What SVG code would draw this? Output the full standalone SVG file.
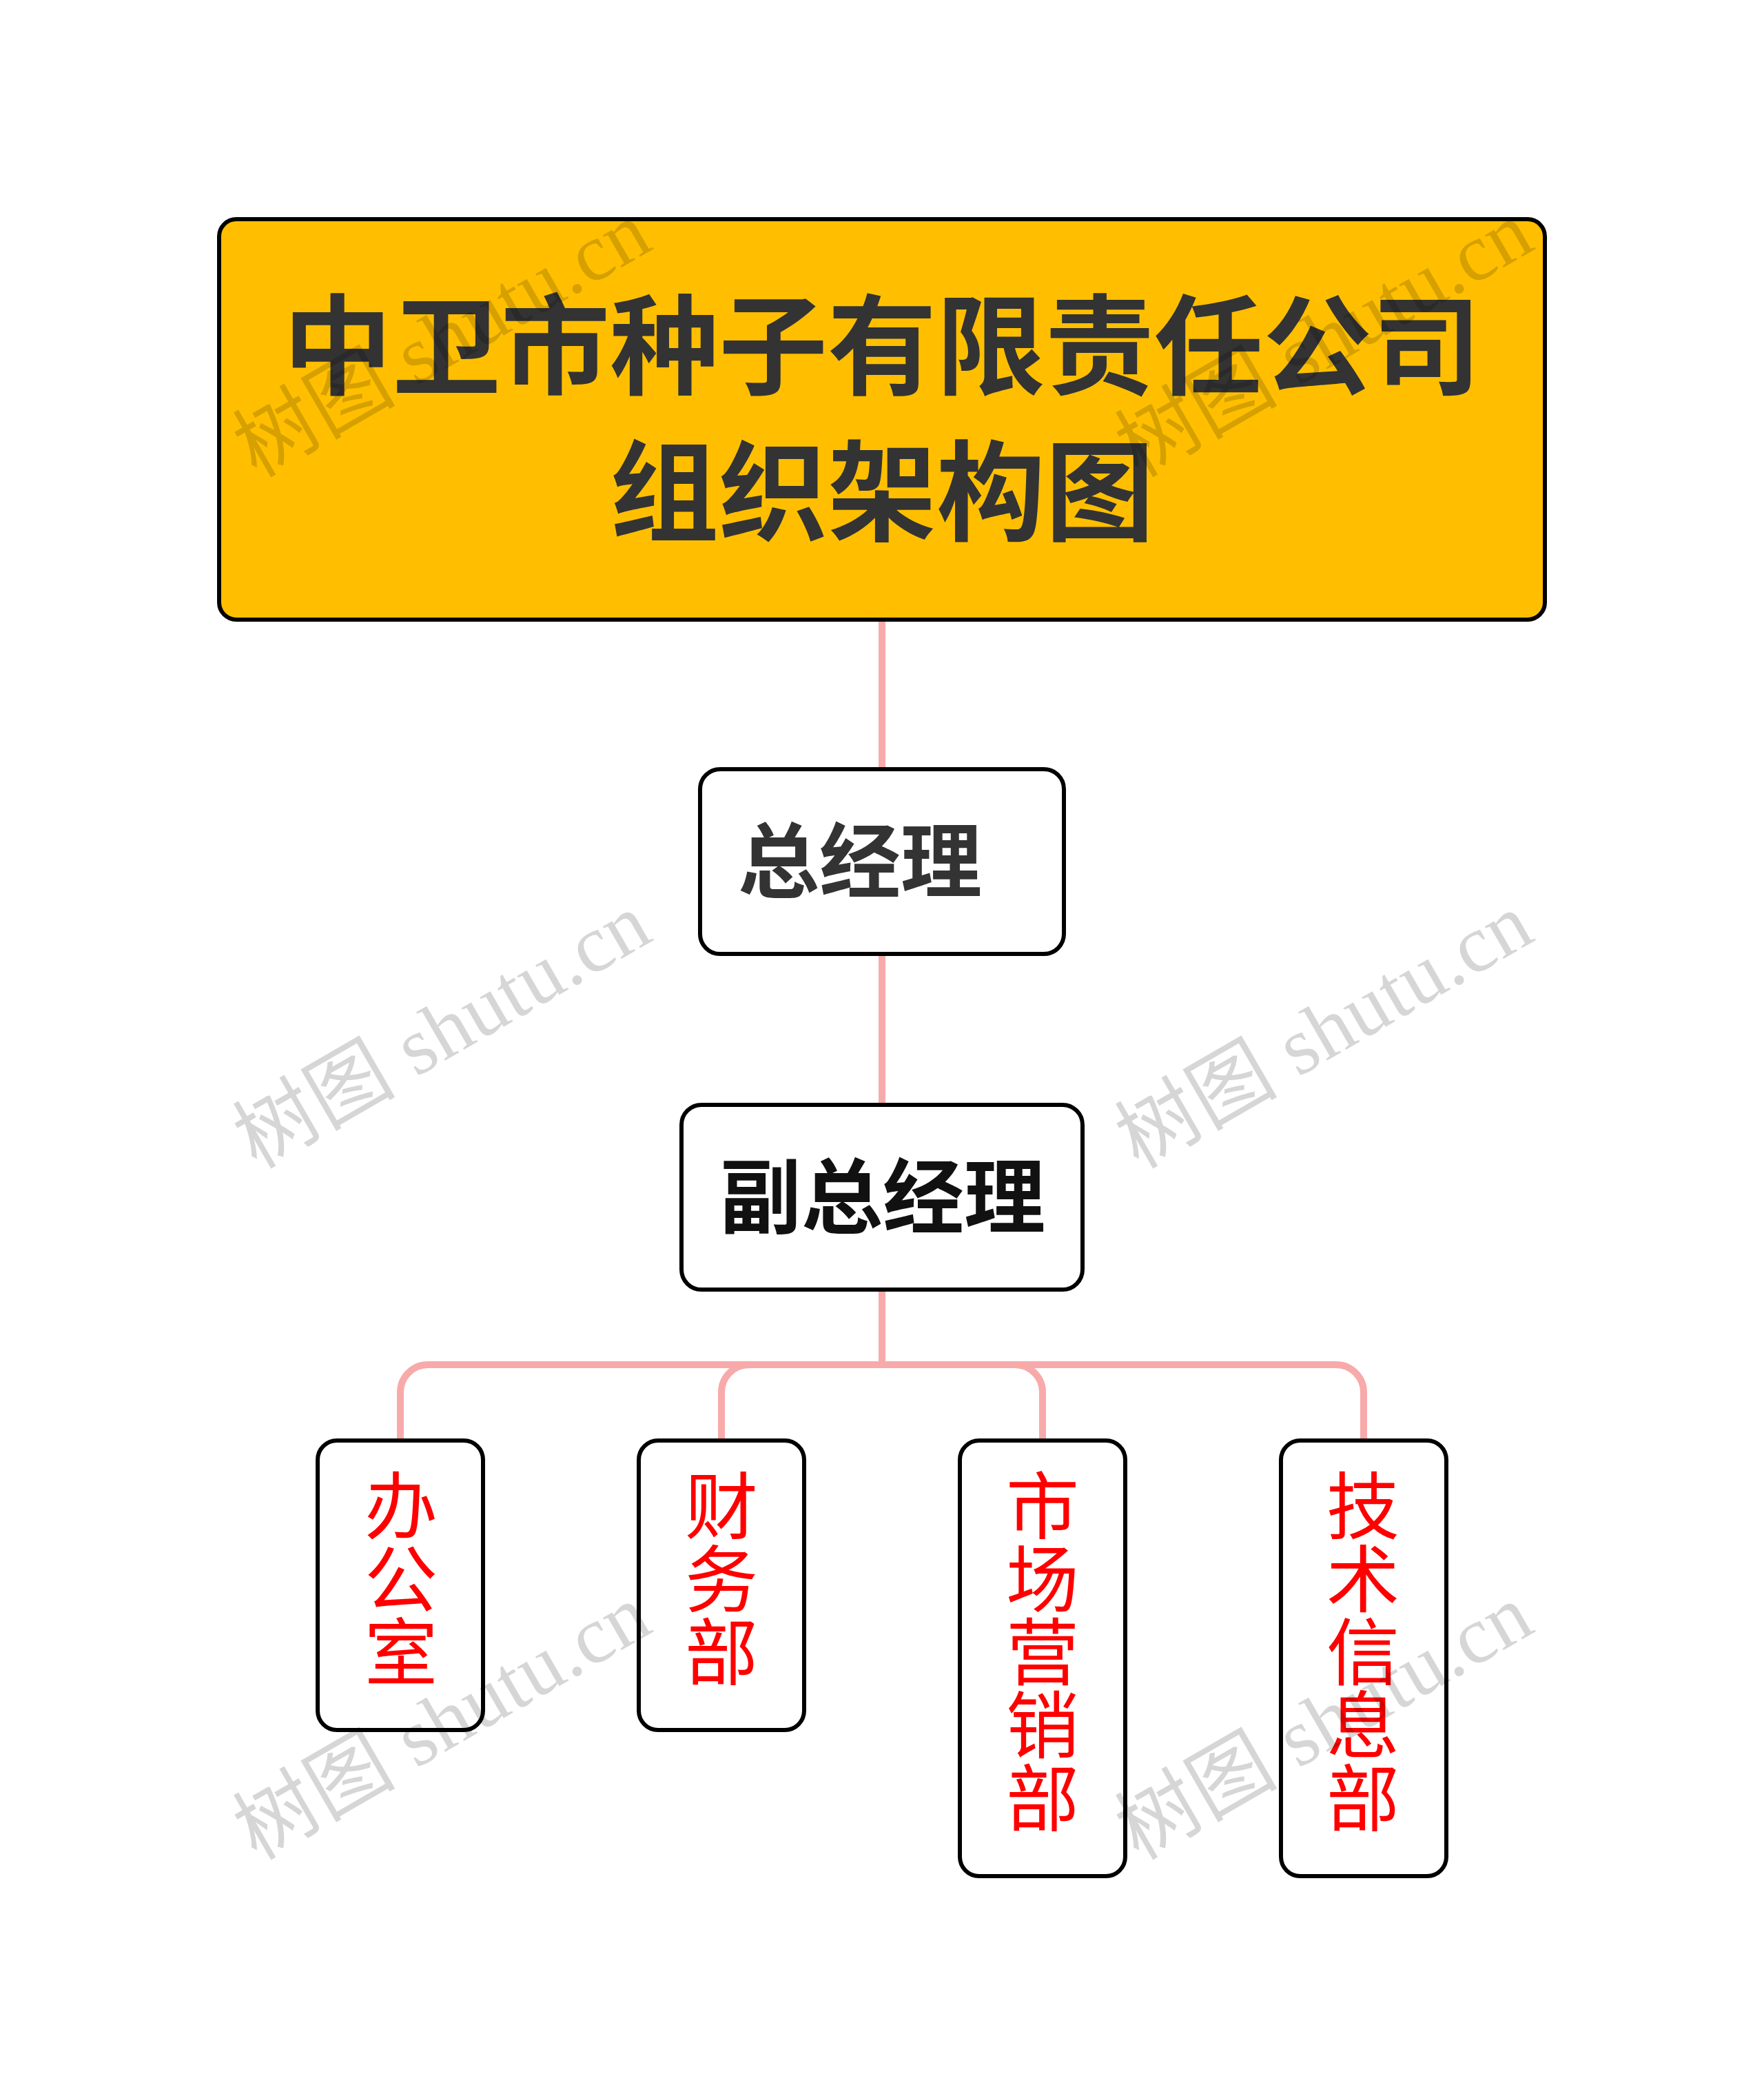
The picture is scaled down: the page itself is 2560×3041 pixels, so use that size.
<svg xmlns="http://www.w3.org/2000/svg" width="2560" height="3041" viewBox="0 0 2560 3041">
<style>
.bg{fill:#ffffff}
.box{fill:#ffffff;stroke:#000000;stroke-width:6}
.title{fill:#FFBF00;stroke:#000000;stroke-width:6}
.conn{fill:none;stroke:#F8AAAA;stroke-width:10}
.tt{font-family:"Noto Sans CJK SC","Noto Sans",sans-serif;font-weight:700;fill:#333333;text-anchor:middle}
.mg{font-family:"Noto Sans CJK SC","Noto Sans",sans-serif;font-weight:700;text-anchor:middle;font-size:118px}
.dept{font-family:"Noto Sans CJK SC","Noto Sans",sans-serif;font-weight:400;fill:#FF0000;font-size:106px;writing-mode:vertical-rl;text-orientation:upright}
.wm{font-family:"Liberation Serif","Noto Sans CJK SC",serif;font-size:118px;fill:#000000;fill-opacity:0.16}
</style>
<rect class="bg" x="0" y="0" width="2560" height="3041"/>
<g id="connectors">
<path class="conn" d="M1280,899 L1280,1116"/>
<path class="conn" d="M1280,1384 L1280,1603"/>
<path class="conn" d="M1280,1871 L1280,1980"/>
<path class="conn" d="M581,2090 L581,2020 A40,40 0 0 1 621,1980 L1939,1980 A40,40 0 0 1 1979,2020 L1979,2090"/>
<path class="conn" d="M1087,1980 A40,40 0 0 0 1047,2020 L1047,2090"/>
<path class="conn" d="M1473,1980 A40,40 0 0 1 1513,2020 L1513,2090"/>
</g>
<g id="node-title">
<rect class="title" x="318" y="318" width="1924" height="581" rx="25" ry="25"/>
<text class="tt" x="1280" y="560" font-size="158">中卫市种子有限责任公司</text>
<text class="tt" x="1280" y="772" font-size="158">组织架构图</text>
</g>
<g id="node-gm">
<rect class="box" x="1016" y="1116" width="528" height="268" rx="29" ry="29"/>
<text class="mg" x="1248" y="1293" fill="#333333">总经理</text>
</g>
<g id="node-dgm">
<rect class="box" x="989" y="1603" width="582" height="268" rx="29" ry="29"/>
<text class="mg" x="1281" y="1780" fill="#111111">副总经理</text>
</g>
<g id="node-office">
<rect class="box" x="461" y="2090" width="240" height="420" rx="28" ry="28"/>
<text class="dept" x="582" y="2131">办公室</text>
</g>
<g id="node-finance">
<rect class="box" x="927" y="2090" width="240" height="420" rx="28" ry="28"/>
<text class="dept" x="1047" y="2131">财务部</text>
</g>
<g id="node-marketing">
<rect class="box" x="1393" y="2090" width="240" height="632" rx="28" ry="28"/>
<text class="dept" x="1513" y="2131">市场营销部</text>
</g>
<g id="node-tech">
<rect class="box" x="1859" y="2090" width="240" height="632" rx="28" ry="28"/>
<text class="dept" x="1978" y="2131">技术信息部</text>
</g>
<g id="watermarks">
<text class="wm" transform="translate(372,694) rotate(-30)" textLength="668">树图 shutu.cn</text>
<text class="wm" transform="translate(1652,694) rotate(-30)" textLength="668">树图 shutu.cn</text>
<text class="wm" transform="translate(372,1697) rotate(-30)" textLength="668">树图 shutu.cn</text>
<text class="wm" transform="translate(1652,1697) rotate(-30)" textLength="668">树图 shutu.cn</text>
<text class="wm" transform="translate(372,2700) rotate(-30)" textLength="668">树图 shutu.cn</text>
<text class="wm" transform="translate(1652,2700) rotate(-30)" textLength="668">树图 shutu.cn</text>
</g>
</svg>
